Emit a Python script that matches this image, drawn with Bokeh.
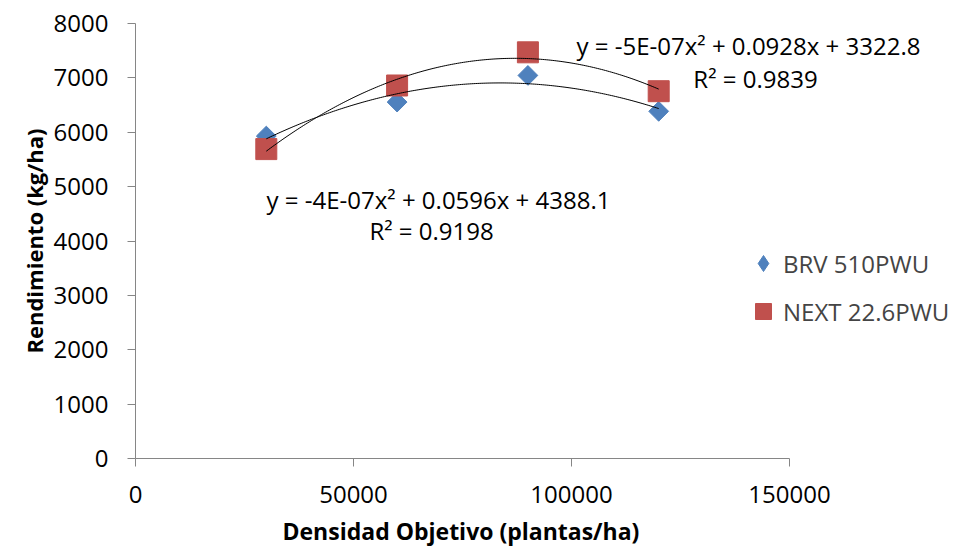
import numpy as np
from bokeh.plotting import figure
from bokeh.models import (Range1d, Legend, LegendItem, Label, FixedTicker,
                          BasicTickFormatter, Title)
from bokeh.embed import file_html
from bokeh.resources import INLINE

# ---- data ----
densidad = [30000, 60000, 90000, 120000]
brv_510pwu = [5930, 6555, 7045, 6385]
next_226pwu = [5690, 6860, 7470, 6755]
series_names = ["BRV 510PWU", "NEXT 22.6PWU"]
x_ticks = [0, 50000, 100000, 150000]
y_ticks = [0, 1000, 2000, 3000, 4000, 5000, 6000, 7000, 8000]
eq_brv = "y = -4E-07x² + 0.0596x + 4388.1"
r2_brv = "R² = 0.9198"
eq_next = "y = -5E-07x² + 0.0928x + 3322.8"
r2_next = "R² = 0.9839"
x_title = "Densidad Objetivo (plantas/ha)"
y_title = "Rendimiento (kg/ha)"

FONT = "Open Sans"
BLUE = "#4F81BD"
RED = "#C0504D"
AXIS = "#868686"

# frame spans to the right edge so that the legend and the equation are not clipped;
# the axis line itself is bounded to 0..150000
X_MAX = 150000
frame_w = 821
axis_w = 654
p = figure(frame_width=frame_w, frame_height=435,
           min_border_left=135, min_border_right=0,
           min_border_top=23, min_border_bottom=90,
           x_range=Range1d(0, X_MAX * frame_w / axis_w), y_range=Range1d(0, 8000),
           output_backend="svg", toolbar_location=None)
p.xgrid.visible = False
p.ygrid.visible = False
p.outline_line_color = None
p.background_fill_color = "white"
p.border_fill_color = "white"

for ax in (p.xaxis[0], p.yaxis[0]):
    ax.axis_line_color = AXIS
    ax.major_tick_line_color = AXIS
    ax.major_tick_in = 0
    ax.major_tick_out = 8
    ax.minor_tick_line_color = None
    ax.major_label_text_font = FONT
    ax.major_label_text_font_size = "24px"
    ax.major_label_text_color = "#000000"
    ax.axis_label_text_font = FONT
    ax.axis_label_text_font_size = "22px"
    ax.axis_label_text_font_style = "bold"
    ax.axis_label_text_color = "#000000"
    ax.formatter = BasicTickFormatter(use_scientific=False)

p.xaxis[0].bounds = (0, X_MAX)
p.xaxis[0].ticker = FixedTicker(ticks=x_ticks)
p.yaxis[0].ticker = FixedTicker(ticks=y_ticks)
p.yaxis[0].axis_label = y_title
p.xaxis[0].major_label_standoff = 19
p.yaxis[0].major_label_standoff = 19
p.yaxis[0].axis_label_standoff = 2

# x-axis title centred under the bounded axis (0..150000)
p.add_layout(Title(text=x_title, align="left", offset=147, standoff=18,
                   vertical_align="top",
                   text_font=FONT, text_font_size="23px", text_font_style="bold",
                   text_color="#000000"), "below")

# diamond key drawn underneath the rotated squares (gives the legend a diamond swatch)
r_brv_key = p.scatter(densidad, brv_510pwu, marker="diamond", size=18,
                      fill_color=BLUE, line_color=BLUE)
r_brv = p.scatter(densidad, brv_510pwu, marker="square", angle=np.pi / 4, size=14,
                  fill_color=BLUE, line_color=BLUE)
r_next = p.scatter(densidad, next_226pwu, marker="square", size=21,
                   fill_color=RED, line_color=RED)

# polynomial (order 2) trendlines fitted to the data
xs = np.linspace(min(densidad), max(densidad), 200)
for ys in (brv_510pwu, next_226pwu):
    c = np.polyfit(densidad, ys, 2)
    p.line(xs, np.polyval(c, xs), line_color="black", line_width=1)

legend = Legend(items=[LegendItem(label=series_names[0], renderers=[r_brv_key]),
                       LegendItem(label=series_names[1], renderers=[r_next])],
                location=(608, 127), border_line_color=None, background_fill_alpha=0,
                label_text_font=FONT, label_text_font_size="24px",
                glyph_width=40, glyph_height=40, label_height=24,
                spacing=8, padding=0, margin=0, label_standoff=0)
p.add_layout(legend)

for txt, x, y in [(eq_brv, 69500, 4763), (r2_brv, 67900, 4193),
                  (eq_next, 140600, 7595), (r2_next, 142200, 6988)]:
    p.add_layout(Label(x=x, y=y, text=txt, text_align="center", text_baseline="middle",
                       text_font=FONT, text_font_size="24px", text_color="#000000"))

open("out.html", "w").write(file_html(p, INLINE))
